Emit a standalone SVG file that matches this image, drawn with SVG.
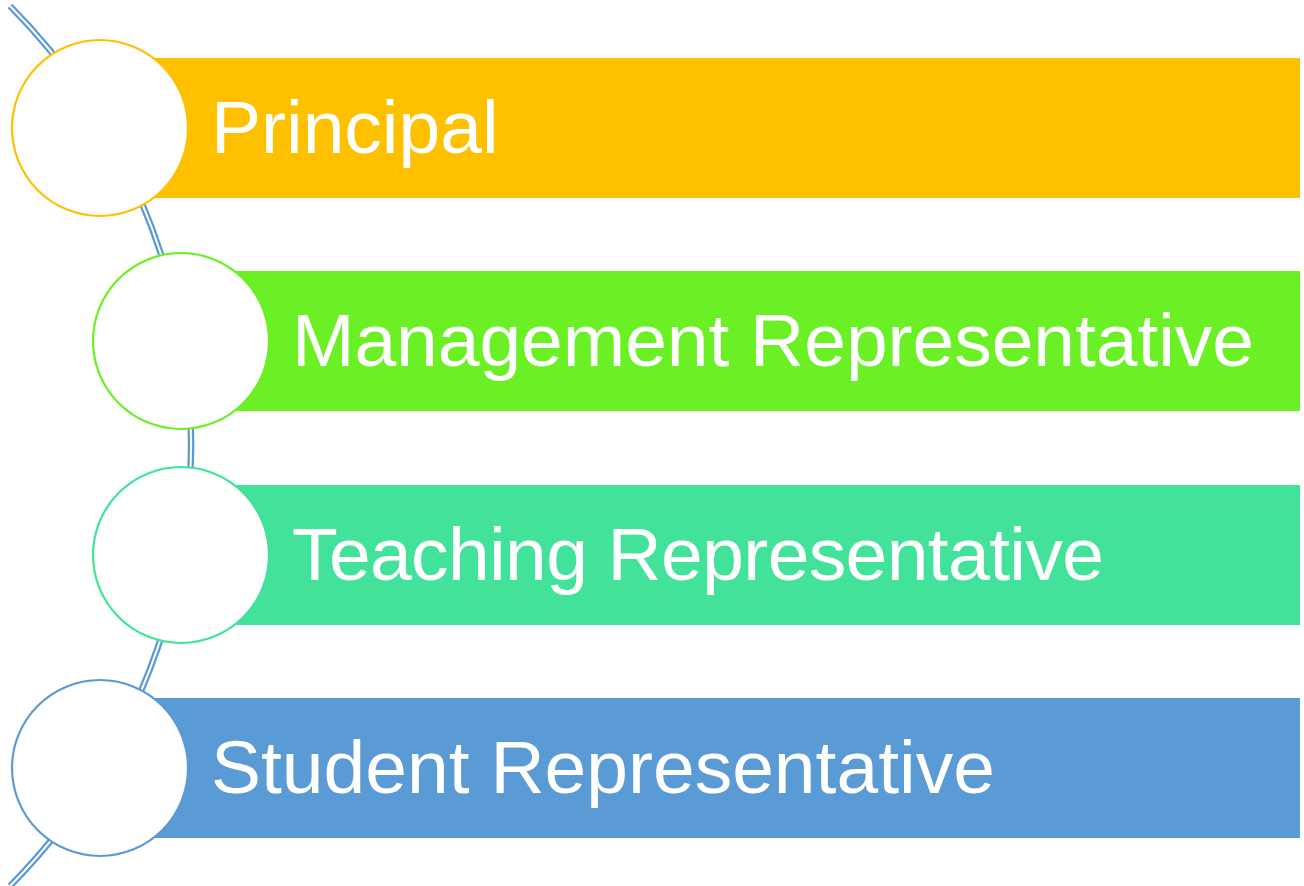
<svg xmlns="http://www.w3.org/2000/svg" width="1304" height="886" viewBox="0 0 1304 886">
<style>
.lbl{font-family:"Liberation Sans",Arial,sans-serif;font-size:75px;fill:#FFFFFF}
.ring{fill:#FFFFFF;stroke-width:2.2}
.arc{fill:none}
</style>
<rect width="1304" height="886" fill="#FFFFFF"/>
<g id="connectors">
<path class="arc" d="M 10 6 A 625 625 0 0 1 10 886" stroke="#5B9BD5" stroke-width="6.5"/>
<path class="arc" d="M 10 6 A 625 625 0 0 1 10 886" stroke="#FFFFFF" stroke-width="2"/>
</g>
<g id="node-principal">
<rect x="150" y="58" width="1150" height="140" fill="#FFC000"/>
<circle class="ring" cx="100" cy="128" r="88" stroke="#FFC000"/>
<text class="lbl" x="211" y="153">Principal</text>
</g>
<g id="node-management">
<rect x="231" y="271" width="1069" height="140" fill="#6AF024"/>
<circle class="ring" cx="181" cy="341" r="88" stroke="#6AF024"/>
<text class="lbl" x="292" y="366" textLength="962">Management Representative</text>
</g>
<g id="node-teaching">
<rect x="231" y="485" width="1069" height="140" fill="#42E29A"/>
<circle class="ring" cx="181" cy="555" r="88" stroke="#42E29A"/>
<text class="lbl" x="292" y="580" textLength="812">Teaching Representative</text>
</g>
<g id="node-student">
<rect x="150" y="698" width="1150" height="140" fill="#5B9BD5"/>
<circle class="ring" cx="100" cy="768" r="88" stroke="#5B9BD5"/>
<text class="lbl" x="211" y="793">Student Representative</text>
</g>
</svg>
